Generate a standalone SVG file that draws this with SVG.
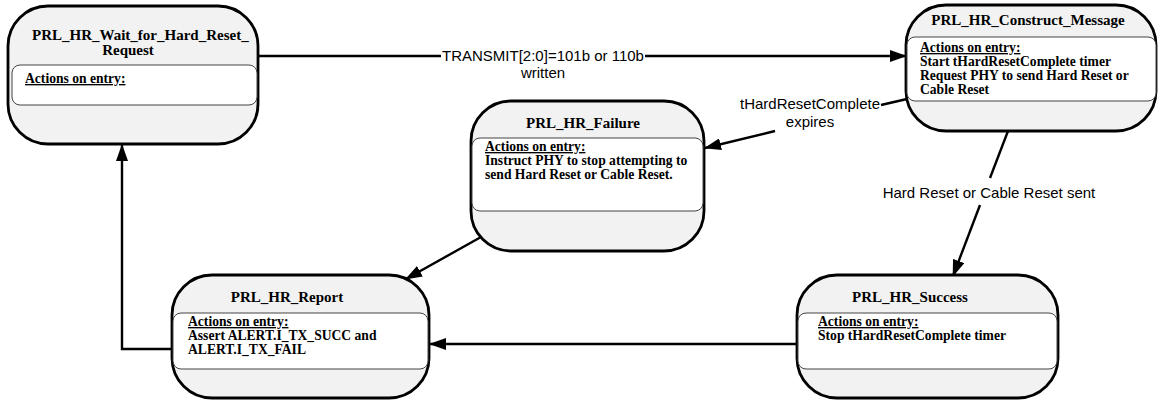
<svg xmlns="http://www.w3.org/2000/svg" width="1164" height="400" viewBox="0 0 1164 400">
<style>
.outer{fill:#f2f2f2;stroke:#000;stroke-width:2.8}
.inner{fill:#fff;stroke:#444;stroke-width:1}
.title{font-family:"Liberation Serif",serif;font-weight:bold;font-size:15px;fill:#000}
.body{font-family:"Liberation Serif",serif;font-weight:bold;font-size:13.6px;fill:#000}
.ul{text-decoration:underline}
.edge{fill:none;stroke:#000;stroke-width:2.4}
.lbl{font-family:"Liberation Sans",Arial,sans-serif;font-size:15px;fill:#000;text-anchor:middle}
</style>
<defs>
<marker id="ah" markerUnits="userSpaceOnUse" markerWidth="17" markerHeight="12" refX="16" refY="6" orient="auto">
<path d="M0,0 L17,6 L0,12 Z" fill="#000"/>
</marker>
</defs>
<rect width="1164" height="400" fill="#fff"/>
<g id="connectors">
<line class="edge" x1="258" y1="56" x2="441" y2="56"/>
<line class="edge" x1="645" y1="56" x2="906" y2="56" marker-end="url(#ah)"/>
<text class="lbl" x="543" y="61">TRANSMIT[2:0]=101b or 110b</text>
<text class="lbl" x="543" y="78">written</text>
<line class="edge" x1="907" y1="99" x2="881" y2="105"/>
<line class="edge" x1="775" y1="131" x2="705" y2="148" marker-end="url(#ah)"/>
<text class="lbl" x="810" y="109">tHardResetComplete</text>
<text class="lbl" x="810" y="127">expires</text>
<line class="edge" x1="1008" y1="131" x2="990" y2="178"/>
<line class="edge" x1="980" y1="205" x2="953" y2="276" marker-end="url(#ah)"/>
<text class="lbl" x="989" y="198">Hard Reset or Cable Reset sent</text>
<line class="edge" x1="481" y1="237" x2="406" y2="279" marker-end="url(#ah)"/>
<line class="edge" x1="797" y1="344" x2="430" y2="344" marker-end="url(#ah)"/>
<polyline class="edge" points="172,349 122,349 122,145" marker-end="url(#ah)"/>
</g>
<g id="wait">
<rect class="outer" x="8" y="6" width="250" height="138" rx="40"/>
<rect class="inner" x="12" y="65" width="245" height="40" rx="8"/>
<text class="title" x="32" y="40">PRL_HR_Wait_for_Hard_Reset_</text>
<text class="title" x="128" y="55" text-anchor="middle">Request</text>
<text class="body ul" x="25" y="83">Actions on entry:</text>
</g>
<g id="construct">
<rect class="outer" x="906" y="5" width="250" height="126" rx="40"/>
<rect class="inner" x="907" y="37" width="249" height="64" rx="8"/>
<text class="title" x="1028" y="25" text-anchor="middle">PRL_HR_Construct_Message</text>
<text class="body ul" x="920" y="52">Actions on entry:</text>
<text class="body" x="920" y="66">Start tHardResetComplete timer</text>
<text class="body" x="920" y="80">Request PHY to send Hard Reset or</text>
<text class="body" x="920" y="94">Cable Reset</text>
</g>
<g id="failure">
<rect class="outer" x="471" y="101" width="233" height="150" rx="40"/>
<rect class="inner" x="472" y="138" width="231" height="73" rx="8"/>
<text class="title" x="583" y="128" text-anchor="middle">PRL_HR_Failure</text>
<text class="body ul" x="485" y="151">Actions on entry:</text>
<text class="body" x="485" y="165">Instruct PHY to stop attempting to</text>
<text class="body" x="485" y="179">send Hard Reset or Cable Reset.</text>
</g>
<g id="report">
<rect class="outer" x="172" y="275" width="257" height="123" rx="40"/>
<rect class="inner" x="173" y="313" width="255" height="56" rx="8"/>
<text class="title" x="287" y="302" text-anchor="middle">PRL_HR_Report</text>
<text class="body ul" x="188" y="326">Actions on entry:</text>
<text class="body" x="188" y="340">Assert ALERT.I_TX_SUCC and</text>
<text class="body" x="188" y="354">ALERT.I_TX_FAIL</text>
</g>
<g id="success">
<rect class="outer" x="797" y="275" width="261" height="123" rx="40"/>
<rect class="inner" x="798" y="313" width="259" height="56" rx="8"/>
<text class="title" x="910" y="302" text-anchor="middle">PRL_HR_Success</text>
<text class="body ul" x="818" y="326">Actions on entry:</text>
<text class="body" x="818" y="340">Stop tHardResetComplete timer</text>
</g>
</svg>
